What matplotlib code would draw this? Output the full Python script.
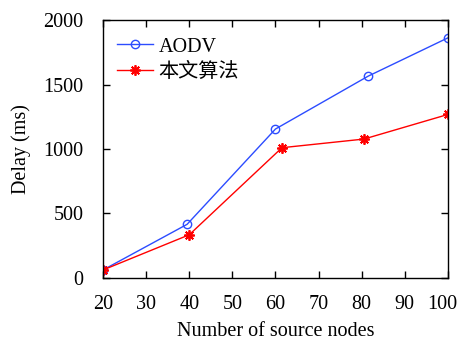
import matplotlib
matplotlib.use("Agg")
import matplotlib.pyplot as plt
import matplotlib.transforms as mtransforms

x_aodv = [20, 39.5, 60, 81.5, 100]
y_aodv = [62, 416, 1155, 1565, 1862]
x_prop = [20, 40, 61.5, 80.5, 100]
y_prop = [62, 335, 1010, 1077, 1268]
labels = ["AODV", "本文算法"]
xticks = [20, 30, 40, 50, 60, 70, 80, 90, 100]
yticks = [0, 500, 1000, 1500, 2000]

fam = ["Liberation Serif", "Noto Sans CJK SC"]
plt.rcParams['font.family'] = fam
plt.rcParams['font.size'] = 14.5

fig = plt.figure(figsize=(4.61, 3.41), dpi=100)
ax = fig.add_axes([0.2234, 0.1848, 0.9718 - 0.2234, 0.9413 - 0.1848])
blue = "#2c4cff"
red = "#ff0000"
ax.plot(x_aodv, y_aodv, color=blue, lw=1.0, marker='o', mfc='none', mec=blue, ms=6, mew=1.0, label=labels[0])
ax.plot(x_prop, y_prop, color=red, lw=1.0, marker=(8, 2, 0), mec=red, ms=7.5, mew=1.3, label=labels[1])
ax.set_xlim(20, 100)
ax.set_ylim(0, 2000)
ax.set_xticks(xticks)
ax.set_yticks(yticks)
ax.tick_params(direction='in', top=True, right=True, length=5, width=1)
ax.tick_params(axis='x', pad=12)
ax.tick_params(axis='y', pad=14)
for s in ax.spines.values():
    s.set_linewidth(1.0)
ax.set_xlabel("Number of source nodes", labelpad=6)
ax.set_ylabel("Delay (ms)", labelpad=9)
leg = ax.legend(loc='upper left', frameon=False, handlelength=1.75, handletextpad=0.3,
                borderaxespad=0.4, labelspacing=0.3, bbox_to_anchor=(-0.005, 0.995))

# nudge the last x tick label so it stays inside the canvas
last = ax.get_xticklabels()[-1]
last.set_transform(last.get_transform() + mtransforms.ScaledTranslation(-4 / 72, 0, fig.dpi_scale_trans))

fig.savefig("out.png", dpi=100)
